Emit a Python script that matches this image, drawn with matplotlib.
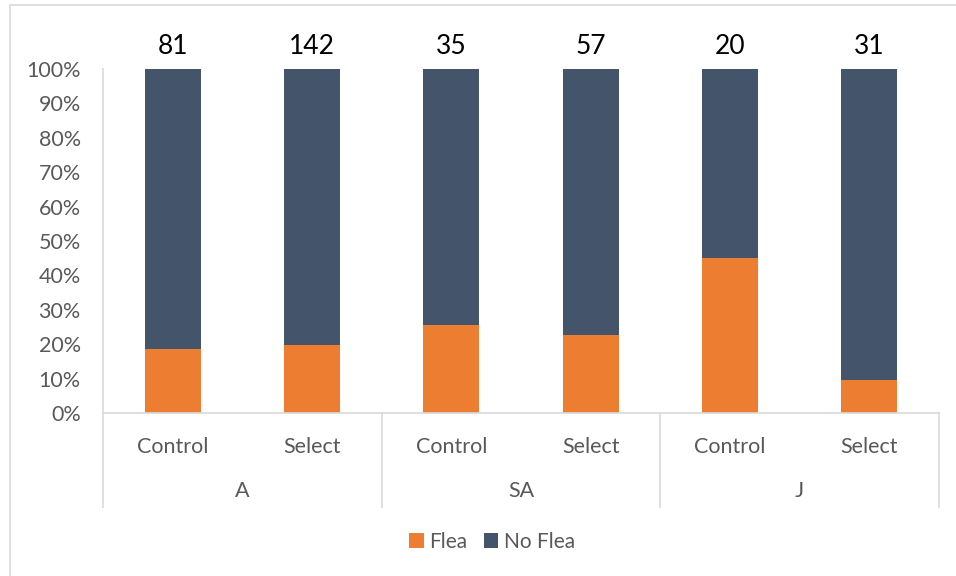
import numpy as np
import matplotlib.pyplot as plt
from matplotlib.patches import Rectangle
import matplotlib.transforms as mtransforms

plt.rcParams["font.family"] = ["Lato", "DejaVu Sans"]

# data
groups = ["A", "SA", "J"]
treatments = ["Control", "Select", "Control", "Select", "Control", "Select"]
totals = [81, 142, 35, 57, 20, 31]
flea = [15, 28, 9, 13, 9, 3]

flea_pct = [100 * f / t for f, t in zip(flea, totals)]
noflea_pct = [100 - p for p in flea_pct]

orange = "#ED7D31"
navy = "#44546A"
grid_grey = "#D9D9D9"
text_grey = "#595959"

W, H = 956, 576
fig = plt.figure(figsize=(W / 100, H / 100), dpi=100)

# light border of the chart area (only top and left show in the crop)
fig.patches.append(Rectangle((10 / W, -0.1), 1.2, 1.1 - 5 / H, transform=fig.transFigure,
                             fill=False, edgecolor=grid_grey, linewidth=1.2))

left, right, top, bottom = 103, 939, 69, 413
ax = fig.add_axes([left / W, 1 - bottom / H, (right - left) / W, (bottom - top) / H])

x = np.arange(len(treatments))
ax.bar(x, flea_pct, width=0.4, color=orange, label="Flea")
ax.bar(x, noflea_pct, width=0.4, bottom=flea_pct, color=navy, label="No Flea")

ax.set_xlim(-0.5, len(treatments) - 0.5)
ax.set_ylim(0, 100)
ax.set_yticks(range(0, 101, 10))
ax.set_yticklabels([f"{v}%" for v in range(0, 101, 10)])
ax.tick_params(axis="y", length=0, pad=16, labelsize=15.5, labelcolor=text_grey)

ax.set_xticks(x)
ax.set_xticklabels(treatments)
ax.tick_params(axis="x", length=0, pad=17, labelsize=15.5, labelcolor=text_grey)

for s in ["top", "right"]:
    ax.spines[s].set_visible(False)
ax.spines["left"].set_visible(False)
ax.spines["bottom"].set_color(grid_grey)
ax.spines["bottom"].set_linewidth(1.2)

trans = mtransforms.blended_transform_factory(ax.transData, ax.transAxes)
low = -(507 - bottom) / (bottom - top)

# y axis line running down into the category area, and group dividers
ax.plot([-0.5, -0.5], [1, low], transform=trans, color=grid_grey, lw=1.2, clip_on=False)
for b in [1.5, 3.5, 5.5]:
    ax.plot([b, b], [0, low], transform=trans, color=grid_grey, lw=1.2, clip_on=False)

for i, g in enumerate(groups):
    ax.text(2 * i + 0.5, -(491 - bottom) / (bottom - top), g, transform=trans,
            ha="center", va="center", fontsize=15.5, color=text_grey)

# sample sizes above each bar
for xi, n in zip(x, totals):
    ax.text(xi, (bottom - 47) / (bottom - top), str(n), transform=trans,
            ha="center", va="center", fontsize=19, color="black")

fig.legend(loc="center", bbox_to_anchor=(492 / W, 1 - 542 / H), ncol=2, frameon=False,
           fontsize=15, labelcolor=text_grey, handlelength=0.7, handleheight=0.7,
           handletextpad=0.25, columnspacing=0.8)

fig.savefig("out.png", dpi=100)
